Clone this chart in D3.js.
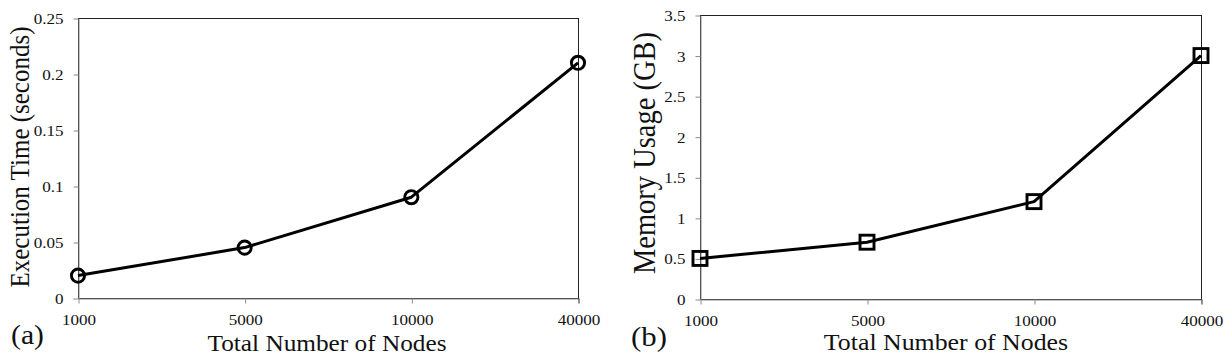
<!DOCTYPE html>
<html>
<head>
<meta charset="utf-8">
<script src="https://cdn.jsdelivr.net/npm/d3@7"></script>
<style>
  body { margin: 0; background: #fff; }
  svg { display: block; font-family: "Liberation Serif", "Times New Roman", serif; }
</style>
</head>
<body>
<script>
// data
var nodes = ["1000", "5000", "10000", "40000"];
var execTime = [0.02, 0.045, 0.09, 0.21];
var memUsage = [0.5, 0.7, 1.2, 3.0];
var execTicks = [0, 0.05, 0.1, 0.15, 0.2, 0.25];
var execTickLabels = ["0", "0.05", "0.1", "0.15", "0.2", "0.25"];
var memTicks = [0, 0.5, 1, 1.5, 2, 2.5, 3, 3.5];
var memTickLabels = ["0", "0.5", "1", "1.5", "2", "2.5", "3", "3.5"];

var W = 1231, H = 360;
var SX = 1.1; // the original figure is slightly stretched horizontally

var svg = d3.select("body").append("svg").attr("width", W).attr("height", H);

function stretchText(sel) {
  sel.attr("transform", function() {
    var x = +this.getAttribute("x") || 0, y = +this.getAttribute("y") || 0;
    this.setAttribute("x", 0); this.setAttribute("y", 0);
    return "translate(" + x + "," + y + ") scale(" + SX + ",1)";
  });
}

function panel(p) {
  var g = svg.append("g");
  var x = d3.scalePoint().domain(nodes).range([p.x0, p.x1]).padding(0);
  var y = d3.scaleLinear().domain([0, p.ticks[p.ticks.length - 1]]).range([p.y1, p.y0]);

  // plot frame (top/right)
  g.append("rect")
    .attr("x", p.x0 + 0.5).attr("y", y(p.ticks[p.ticks.length - 1]) + 0.5)
    .attr("width", p.x1 - p.x0).attr("height", p.y1 - p.y0)
    .attr("fill", "none").attr("stroke", "#222").attr("stroke-width", 1);

  var ya = g.append("g").attr("transform", "translate(" + (p.x0 + 0.5) + ",0.5)")
    .call(d3.axisLeft(y).tickValues(p.ticks)
      .tickFormat(function(d, i) { return p.labels[i]; })
      .tickSize(5).tickPadding(10).tickSizeOuter(0));
  var xa = g.append("g").attr("transform", "translate(0.5," + (p.y1 + 0.5) + ")")
    .call(d3.axisBottom(x).tickSize(5).tickPadding(10).tickSizeOuter(0));

  [ya, xa].forEach(function(a) {
    a.select(".domain").attr("stroke", "#888");
    a.selectAll(".tick line").attr("stroke", "#888");
    a.selectAll(".tick text").attr("fill", "#111")
      .style("font-family", "Liberation Serif").style("font-size", "15.5px")
      .call(stretchText);
  });
  xa.selectAll(".tick line").filter(function(d) { return d === nodes[nodes.length - 1]; })
    .attr("stroke", "#222");

  var pts = nodes.map(function(n, i) { return [x(n), y(p.values[i])]; });
  g.append("path").datum(pts)
    .attr("d", d3.line())
    .attr("fill", "none").attr("stroke", "#000").attr("stroke-width", 3)
    .attr("stroke-linejoin", "round");

  if (p.marker === "circle") {
    g.selectAll(".m").data(pts).join("circle")
      .attr("cx", function(d) { return d[0]; }).attr("cy", function(d) { return d[1]; })
      .attr("r", 6.6).attr("fill", "none").attr("stroke", "#000").attr("stroke-width", 2.9);
  } else {
    g.selectAll(".m").data(pts).join("rect")
      .attr("x", function(d) { return d[0] - 7; }).attr("y", function(d) { return d[1] - 7; })
      .attr("width", 14).attr("height", 14)
      .attr("fill", "none").attr("stroke", "#000").attr("stroke-width", 2.9);
  }

  g.append("text")
    .attr("transform", "translate(" + p.ylabX + "," + p.ylabY + ") scale(" + SX + ",1) rotate(-90)")
    .attr("text-anchor", "middle").attr("font-size", p.ylabSize).attr("fill", "#111")
    .text(p.ylabel);

  g.append("text")
    .attr("transform", "translate(" + p.xlabX + "," + p.xlabY + ") scale(" + SX + ",1)")
    .attr("text-anchor", "middle").attr("font-size", p.xlabSize).attr("fill", "#111")
    .text("Total Number of Nodes");

  g.append("text")
    .attr("transform", "translate(" + p.tagX + "," + p.tagY + ") scale(" + SX + ",1)")
    .attr("font-size", p.tagSize).attr("fill", "#111")
    .text(p.tag);
}

panel({
  x0: 78, x1: 578, y0: 18, y1: 298,
  ticks: execTicks, labels: execTickLabels, values: execTime, marker: "circle",
  ylabel: "Execution Time (seconds)", ylabX: 29, ylabY: 157, ylabSize: 25,
  xlabX: 327, xlabY: 351, xlabSize: 23,
  tag: "(a)", tagX: 11, tagY: 344, tagSize: 27
});

panel({
  x0: 700, x1: 1201, y0: 15, y1: 299,
  ticks: memTicks, labels: memTickLabels, values: memUsage, marker: "square",
  ylabel: "Memory Usage (GB)", ylabX: 655, ylabY: 153, ylabSize: 28.5,
  xlabX: 946, xlabY: 350, xlabSize: 23.5,
  tag: "(b)", tagX: 631, tagY: 346, tagSize: 28
});
</script>
</body>
</html>
